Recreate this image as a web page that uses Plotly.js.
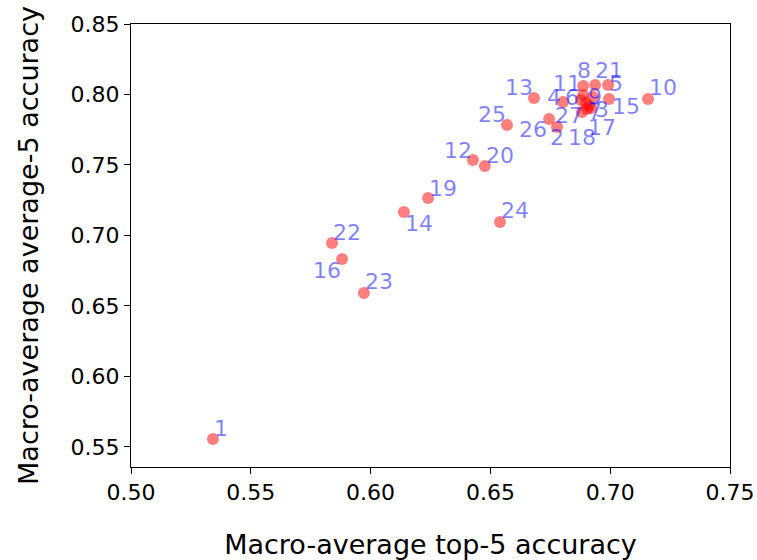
<!DOCTYPE html>
<html>
<head>
<meta charset="utf-8">
<script src="https://cdn.plot.ly/plotly-3.0.1.min.js"></script>
<style>html,body{margin:0;padding:0;background:#fff;}</style>
</head>
<body>
<div id="chart" style="width:757px;height:560px;"></div>
<script>
// Data
const labels = ["1","2","3","4","5","6","7","8","9","10","11","12","13","14","15","16","17","18","19","20","21","22","23","24","25","26","27"];
const top5 = [0.5342,0.6778,0.6912,0.6803,0.6991,0.6878,0.6882,0.6887,0.6928,0.7158,0.6887,0.6427,0.6682,0.6139,0.6995,0.5881,0.6920,0.6899,0.6240,0.6477,0.6937,0.5839,0.5972,0.6540,0.6569,0.6745,0.6903];
const avg5 = [0.5557,0.7770,0.7918,0.7947,0.8067,0.7961,0.7876,0.8060,0.7982,0.7968,0.7996,0.7535,0.7975,0.7167,0.7968,0.6833,0.7904,0.7940,0.7266,0.7493,0.8067,0.6947,0.6592,0.7096,0.7784,0.7826,0.7897];
const xTicks = [0.50,0.55,0.60,0.65,0.70,0.75];
const yTicks = [0.55,0.60,0.65,0.70,0.75,0.80,0.85];

// Label pixel offsets (left edge, baseline) relative to each point
const labelOffsets = {
 "1":[1,2],"22":[1,2],"16":[-29,-20],"23":[1,3],"14":[1,-20],"19":[1,1],"12":[-29,1],"20":[1,2],
 "24":[1,3],"25":[-29,2],"13":[-29,2],"10":[1,3],"5":[1,-7],"21":[0,6],"8":[-6,7],"11":[-30,3],
 "4":[-16,-4],"6":[-16,-6],"9":[-5,-8],"3":[6,-12],"15":[3,-16],"7":[6,-8],"17":[-3,-28],
 "18":[-18,-43],"2":[-7,-19],"26":[-30,-19],"27":[-32,-15]
};

const FONT = "DejaVu Sans, sans-serif";
const DESC = 5;

const trace = {
  x: top5, y: avg5, type: "scatter", mode: "markers",
  marker: {color: "rgba(255,0,0,0.5)", size: 12, line: {width: 0}},
  hoverinfo: "skip"
};

const annotations = labels.map((t, i) => {
  const o = labelOffsets[t] || [1,2];
  return {
    x: top5[i], y: avg5[i], xref: "x", yref: "y", text: t, showarrow: false,
    xanchor: "left", yanchor: "bottom", xshift: o[0] - 1, yshift: o[1] - DESC,
    font: {family: FONT, size: 22, color: "rgba(0,0,255,0.5)"}, borderpad: 0
  };
});

const axisCommon = {
  showgrid: false, zeroline: false, showline: true, linecolor: "#000", linewidth: 1, mirror: true,
  ticks: "outside", ticklen: 6, tickwidth: 1, tickcolor: "#000",
  tickfont: {family: FONT, size: 22, color: "#000"}
};

const layout = {
  width: 757, height: 560,
  margin: {l: 131, r: 27, t: 24, b: 93},
  paper_bgcolor: "#fff", plot_bgcolor: "#fff",
  showlegend: false,
  xaxis: Object.assign({}, axisCommon, {
    range: [0.5, 0.75], tickvals: xTicks, ticktext: xTicks.map(v => v.toFixed(2)),
    title: {text: "Macro-average top-5 accuracy", font: {family: FONT, size: 27, color: "#000"}, standoff: 30}
  }),
  yaxis: Object.assign({}, axisCommon, {
    range: [0.5358, 0.85], tickvals: yTicks, ticktext: yTicks.map(v => v.toFixed(2)),
    title: {text: "Macro-average average-5 accuracy", font: {family: FONT, size: 27, color: "#000"}, standoff: 24}
  }),
  annotations: annotations
};

Plotly.newPlot("chart", [trace], layout, {staticPlot: true, displayModeBar: false});
</script>
</body>
</html>
